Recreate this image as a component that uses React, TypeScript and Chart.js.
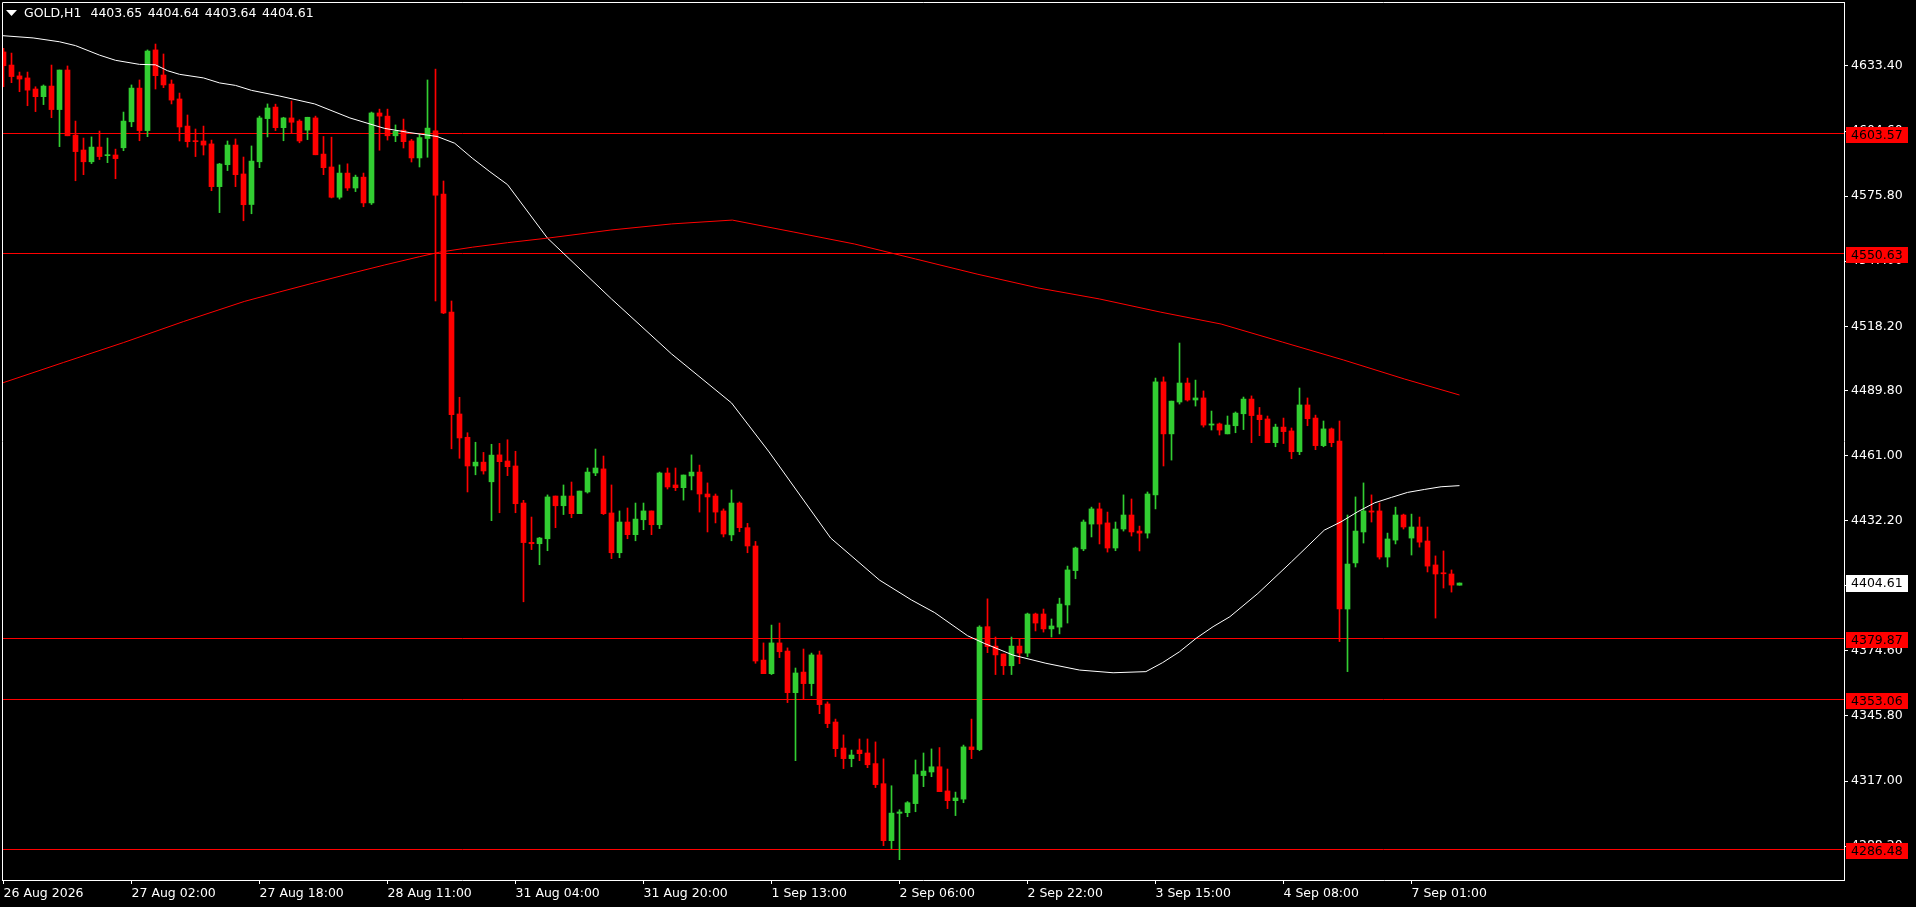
import React, { useEffect, useRef } from "react";
import { Chart, registerables } from "chart.js";
Chart.register(...registerables);

// ---- OHLC (GOLD, H1), one entry per bar, left to right ----
const opens = [
  4639.6, 4633.8, 4629.0, 4628.1, 4623.2, 4619.8, 4624.5, 4614.1, 4631.6, 4602.8,
  4596.2, 4591.0, 4597.5, 4593.7, 4594.0, 4597.2, 4608.7, 4623.6, 4604.8, 4640.5,
  4629.4, 4625.4, 4618.8, 4606.8, 4600.2, 4600.2, 4598.9, 4580.0, 4589.7, 4598.4,
  4585.6, 4572.1, 4591.0, 4610.1, 4615.2, 4606.1, 4610.4, 4609.0, 4605.0, 4610.4,
  4594.4, 4588.7, 4575.3, 4586.0, 4579.4, 4584.2, 4572.8, 4612.6, 4611.2, 4602.5,
  4605.0, 4600.2, 4592.7, 4601.3, 4604.7, 4576.7, 4524.5, 4479.4, 4469.1, 4456.4,
  4458.1, 4449.4, 4461.3, 4458.6, 4456.4, 4440.0, 4422.6, 4422.0, 4424.2, 4443.1,
  4438.8, 4443.1, 4435.3, 4444.9, 4453.3, 4455.1, 4435.6, 4418.0, 4431.6, 4426.0,
  4432.6, 4436.5, 4430.4, 4453.3, 4448.0, 4446.8, 4452.0, 4453.7, 4444.0, 4443.1,
  4436.5, 4425.9, 4440.0, 4429.1, 4421.0, 4370.5, 4364.5, 4378.1, 4374.5, 4356.1,
  4365.2, 4360.1, 4372.8, 4351.1, 4343.1, 4331.6, 4326.9, 4330.7, 4329.4, 4324.7,
  4315.8, 4290.6, 4302.7, 4303.0, 4307.0, 4319.4, 4321.0, 4323.3, 4312.6, 4308.3,
  4309.0, 4332.1, 4330.9, 4385.3, 4376.7, 4373.2, 4368.0, 4376.7, 4373.6, 4390.9,
  4390.9, 4384.3, 4385.1, 4394.9, 4410.1, 4419.7, 4430.7, 4437.4, 4431.2, 4420.1,
  4428.5, 4434.7, 4427.6, 4426.7, 4443.6, 4493.6, 4470.6, 4484.7, 4493.1, 4485.6,
  4486.5, 4474.5, 4475.0, 4470.6, 4474.2, 4479.5, 4486.0, 4478.9, 4477.2, 4466.7,
  4473.6, 4471.9, 4462.7, 4483.4, 4477.6, 4465.4, 4472.8, 4467.4, 4393.1, 4413.5,
  4427.2, 4436.5, 4436.5, 4416.1, 4423.6, 4434.7, 4424.5, 4429.4, 4423.2, 4412.6,
  4409.0, 4408.6, 4403.65,
];
const highs = [
  4641.2, 4639.1, 4630.7, 4630.7, 4624.2, 4625.0, 4633.8, 4631.6, 4633.4, 4609.0,
  4601.5, 4602.0, 4604.6, 4601.5, 4596.6, 4613.0, 4625.0, 4627.2, 4640.5, 4643.1,
  4638.7, 4627.2, 4621.4, 4611.7, 4605.5, 4606.8, 4600.6, 4590.3, 4600.2, 4601.1,
  4593.1, 4598.0, 4611.2, 4616.6, 4616.5, 4610.7, 4617.9, 4609.6, 4610.7, 4611.2,
  4602.2, 4601.9, 4589.6, 4590.1, 4585.1, 4586.0, 4613.0, 4614.3, 4614.3, 4607.3,
  4609.9, 4600.9, 4603.1, 4627.2, 4632.0, 4582.5, 4529.4, 4486.8, 4471.1, 4466.9,
  4462.4, 4466.0, 4466.4, 4468.0, 4462.9, 4441.2, 4433.8, 4424.8, 4443.6, 4443.1,
  4448.0, 4449.3, 4445.3, 4455.5, 4463.9, 4460.8, 4448.0, 4436.5, 4437.8, 4440.0,
  4440.0, 4436.5, 4453.7, 4455.5, 4455.5, 4452.4, 4461.3, 4456.8, 4448.9, 4444.0,
  4437.4, 4445.8, 4440.5, 4431.0, 4423.0, 4378.1, 4386.0, 4386.9, 4375.9, 4367.0,
  4375.4, 4373.6, 4374.5, 4352.0, 4344.4, 4337.4, 4330.7, 4335.6, 4335.6, 4334.3,
  4326.8, 4314.9, 4304.3, 4307.9, 4326.3, 4329.4, 4331.2, 4331.8, 4322.3, 4312.1,
  4332.9, 4344.4, 4385.7, 4397.6, 4380.7, 4373.2, 4380.7, 4379.8, 4391.3, 4391.3,
  4393.1, 4388.7, 4397.9, 4412.1, 4420.5, 4432.5, 4438.2, 4440.0, 4436.0, 4431.6,
  4443.6, 4441.8, 4429.8, 4444.9, 4495.3, 4495.8, 4485.1, 4510.8, 4495.3, 4494.4,
  4489.6, 4480.7, 4475.4, 4478.5, 4480.3, 4486.9, 4487.4, 4482.3, 4478.5, 4474.9,
  4477.6, 4473.2, 4490.9, 4486.5, 4478.9, 4476.3, 4473.2, 4476.3, 4434.7, 4442.7,
  4448.9, 4443.6, 4440.0, 4426.7, 4438.2, 4435.1, 4435.1, 4433.8, 4429.4, 4416.6,
  4418.8, 4410.4, 4404.64,
];
const lows = [
  4624.2, 4626.0, 4622.0, 4615.8, 4613.2, 4616.3, 4610.5, 4597.7, 4602.5, 4582.6,
  4585.3, 4590.2, 4592.0, 4590.6, 4583.5, 4595.9, 4606.5, 4600.3, 4602.1, 4623.2,
  4623.8, 4616.6, 4600.2, 4597.5, 4593.3, 4594.0, 4578.2, 4568.5, 4587.1, 4580.0,
  4564.9, 4568.0, 4588.4, 4602.0, 4604.8, 4600.3, 4603.6, 4599.4, 4600.8, 4594.1,
  4585.3, 4575.0, 4574.5, 4578.3, 4577.8, 4571.1, 4572.1, 4596.1, 4600.6, 4599.9,
  4597.1, 4590.9, 4588.7, 4593.0, 4529.4, 4523.8, 4464.0, 4459.8, 4444.9, 4452.5,
  4452.8, 4432.2, 4435.7, 4452.1, 4435.7, 4396.3, 4419.4, 4412.7, 4418.9, 4429.1,
  4434.9, 4433.5, 4435.3, 4444.4, 4452.1, 4434.9, 4415.4, 4415.8, 4424.2, 4423.3,
  4428.2, 4426.0, 4428.7, 4446.2, 4445.5, 4441.3, 4445.8, 4436.0, 4427.2, 4431.2,
  4425.0, 4423.3, 4427.3, 4418.0, 4369.1, 4364.5, 4364.1, 4371.6, 4351.7, 4326.0,
  4353.4, 4354.8, 4346.8, 4340.6, 4327.8, 4322.5, 4323.3, 4326.0, 4322.9, 4314.1,
  4288.4, 4287.1, 4282.2, 4301.2, 4303.4, 4314.5, 4318.9, 4312.3, 4304.8, 4301.7,
  4307.4, 4326.9, 4330.4, 4373.8, 4364.1, 4364.1, 4364.1, 4368.9, 4372.0, 4383.4,
  4382.9, 4380.7, 4382.1, 4386.9, 4406.5, 4418.9, 4425.0, 4421.9, 4418.3, 4418.9,
  4427.6, 4425.4, 4418.8, 4424.5, 4437.4, 4456.4, 4459.0, 4483.8, 4485.1, 4482.9,
  4473.6, 4472.3, 4470.1, 4470.6, 4471.1, 4472.5, 4466.7, 4469.8, 4466.7, 4464.9,
  4466.3, 4459.6, 4461.4, 4474.2, 4463.6, 4464.9, 4464.9, 4378.7, 4365.4, 4411.7,
  4422.3, 4431.6, 4415.2, 4411.7, 4421.9, 4428.5, 4417.0, 4420.5, 4409.5, 4389.1,
  4402.4, 4400.6, 4403.64,
];
const closes = [
  4633.5, 4628.7, 4627.6, 4622.7, 4619.8, 4624.5, 4614.1, 4631.6, 4602.5, 4595.5,
  4591.0, 4597.5, 4593.3, 4594.0, 4592.4, 4609.0, 4623.6, 4604.8, 4640.0, 4629.1,
  4625.0, 4618.3, 4606.4, 4599.9, 4599.9, 4598.4, 4580.0, 4590.0, 4598.4, 4585.3,
  4572.0, 4591.3, 4610.4, 4614.8, 4606.1, 4610.4, 4608.5, 4600.2, 4610.7, 4594.1,
  4588.4, 4575.3, 4586.0, 4579.4, 4584.2, 4572.8, 4612.6, 4611.2, 4602.5, 4604.5,
  4599.9, 4592.7, 4601.7, 4605.9, 4576.2, 4524.1, 4479.1, 4468.8, 4456.4, 4458.1,
  4454.2, 4461.2, 4458.3, 4456.1, 4439.7, 4422.5, 4422.0, 4424.5, 4442.7, 4438.8,
  4443.1, 4435.3, 4445.3, 4453.7, 4455.5, 4435.3, 4418.0, 4431.6, 4426.0, 4432.9,
  4436.5, 4430.4, 4453.3, 4447.1, 4446.8, 4452.4, 4453.7, 4444.0, 4442.7, 4436.0,
  4426.3, 4440.0, 4429.1, 4421.0, 4370.1, 4364.5, 4378.1, 4374.2, 4356.1, 4364.8,
  4360.1, 4372.8, 4350.8, 4342.4, 4331.3, 4326.9, 4328.5, 4329.1, 4324.2, 4315.4,
  4290.6, 4302.8, 4303.3, 4307.4, 4319.8, 4321.4, 4323.3, 4312.3, 4308.3, 4309.5,
  4332.1, 4330.9, 4385.1, 4376.5, 4372.8, 4368.0, 4376.7, 4373.6, 4390.9, 4386.9,
  4384.3, 4385.6, 4395.3, 4410.4, 4420.1, 4431.6, 4437.4, 4430.7, 4420.1, 4428.5,
  4434.7, 4427.2, 4426.7, 4444.0, 4493.6, 4470.6, 4485.1, 4493.1, 4485.6, 4486.5,
  4474.5, 4475.0, 4472.3, 4474.5, 4479.8, 4486.0, 4478.7, 4476.9, 4466.7, 4473.6,
  4471.6, 4462.7, 4483.4, 4477.3, 4465.4, 4472.8, 4466.7, 4393.1, 4413.0, 4427.6,
  4436.5, 4436.0, 4416.1, 4424.1, 4434.7, 4429.4, 4429.4, 4422.7, 4412.1, 4408.6,
  4408.7, 4403.7, 4404.61,
];

// ---- moving averages (bar position, price) ----
const maFastBars = [
  -0.5, 3.7, 7, 9, 12, 14, 17, 19, 20.5, 22, 25, 27, 29, 31, 34.5, 38.9, 43.3, 47.6,
  50.8, 54.2, 56.4, 58.6, 60.8, 63, 68, 76, 83.5, 91, 95.7, 103.4, 109.5, 113.5,
  116.4, 120.5, 122.6, 126.2, 130.3, 134.5, 138.7, 142.8, 144.9, 147, 149.1, 151.2,
  153.3, 156.8, 161, 165.1, 167.2, 169.3, 171.4, 173.5, 175.5, 177.6, 179.7, 182,
];
const maFastValues = [
  4646.9, 4645.8, 4644.1, 4642.4, 4638.2, 4635.9, 4634.1, 4633.9, 4631.3, 4629.7,
  4628.1, 4625.9, 4624.8, 4622.6, 4620.1, 4616.6, 4610.4, 4605.8, 4603.9, 4602.2,
  4599.2, 4592.6, 4586.6, 4580.9, 4557.2, 4530.3, 4506.0, 4484.3, 4462.6, 4424.5,
  4405.9, 4397.1, 4391.5, 4381.3, 4377.9, 4372.7, 4369.1, 4366.1, 4364.9, 4365.4,
  4369.4, 4374.2, 4380.2, 4385.3, 4389.7, 4400.0, 4414.0, 4428.0, 4431.7, 4436.2,
  4440.1, 4442.5, 4444.7, 4446.0, 4447.2, 4447.7,
];
const maSlowBars = [
  -0.5, 7.5, 15, 22.5, 30.1, 34.5, 38.9, 43.3, 47.6, 52, 54.5, 58.6, 63, 68.2, 75.9,
  83.5, 91.1, 98.8, 106.4, 114, 121.7, 129.3, 137, 144.6, 152.2, 159.9, 167.5, 175.1, 182,
];
const maSlowValues = [
  4492.7, 4502.2, 4511.0, 4520.3, 4529.2, 4533.4, 4537.5, 4541.5, 4545.3, 4549.0,
  4551.0, 4553.2, 4555.2, 4557.3, 4560.8, 4563.5, 4565.2, 4559.9, 4554.6, 4548.0,
  4541.3, 4535.2, 4530.3, 4524.5, 4519.2, 4511.2, 4503.3, 4494.9, 4487.8,
];

// ---- axes ----
const xTickBars = [0, 16, 32, 48, 64, 80, 96, 112, 128, 144, 160, 176];
const xTickLabels = [
  "26 Aug 2026", "27 Aug 02:00", "27 Aug 18:00", "28 Aug 11:00", "31 Aug 04:00",
  "31 Aug 20:00", "1 Sep 13:00", "2 Sep 06:00", "2 Sep 22:00", "3 Sep 15:00",
  "4 Sep 08:00", "7 Sep 01:00",
];
const yTickValues = [
  4633.4, 4604.6, 4575.8, 4547.0, 4518.2, 4489.8, 4461.0, 4432.2, 4403.4, 4374.6,
  4345.8, 4317.0, 4288.2,
];
const levelValues = [4603.57, 4550.63, 4379.87, 4353.06, 4286.48];
const lastPrice = 4404.61;
const headerSymbol = "GOLD,H1";
const headerQuote = ["4403.65", "4404.64", "4403.64", "4404.61"];

const UP = "#32cd32";
const DOWN = "#ff0000";
const FONT = "'DejaVu Sans', sans-serif";
const FONT_SIZE = 12.5;

export default function App() {
  const ref = useRef<HTMLCanvasElement | null>(null);

  useEffect(() => {
    const canvas = ref.current;
    if (!canvas) return;

    const colors = closes.map((c, i) => (c >= opens[i] ? UP : DOWN));
    const bodies = opens.map((o, i) => ({ x: i, y: [Math.min(o, closes[i]), Math.max(o, closes[i])] }));
    const wicks = highs.map((h, i) => ({ x: i, y: [lows[i], h] }));
    const fast = maFastBars.map((b, i) => ({ x: b, y: maFastValues[i] }));
    const slow = maSlowBars.map((b, i) => ({ x: b, y: maSlowValues[i] }));

    const overlay = {
      id: "overlay",
      beforeDatasetsDraw(chart: any) {
        const { ctx, chartArea } = chart;
        const ys = chart.scales.y;
        ctx.save();
        ctx.strokeStyle = "#ff0000";
        ctx.lineWidth = 1;
        for (const v of levelValues) {
          const p = Math.floor(ys.getPixelForValue(v)) + 0.5;
          ctx.beginPath();
          ctx.moveTo(chartArea.left, p);
          ctx.lineTo(chartArea.right, p);
          ctx.stroke();
        }
        ctx.restore();
      },
      afterDraw(chart: any) {
        const { ctx, chartArea } = chart;
        const ys = chart.scales.y;
        ctx.save();
        // frame top/left
        ctx.strokeStyle = "#ffffff";
        ctx.lineWidth = 1;
        ctx.beginPath();
        ctx.moveTo(chartArea.left + 0.5, chartArea.bottom);
        ctx.lineTo(chartArea.left + 0.5, chartArea.top + 0.5);
        ctx.lineTo(chartArea.right, chartArea.top + 0.5);
        ctx.stroke();

        ctx.font = `${FONT_SIZE}px ${FONT}`;
        ctx.textBaseline = "middle";
        ctx.textAlign = "left";
        const boxX = chartArea.right + 2;
        const boxW = 62;
        // level price boxes
        for (const v of levelValues) {
          const p = Math.floor(ys.getPixelForValue(v));
          ctx.fillStyle = "#ff0000";
          ctx.fillRect(boxX, p - 6, boxW, 16);
          ctx.fillStyle = "#000000";
          ctx.fillText(v.toFixed(2), chartArea.right + 7, p + 2.5);
        }
        // current price box
        const lp = Math.floor(ys.getPixelForValue(lastPrice));
        ctx.fillStyle = "#ffffff";
        ctx.fillRect(boxX, lp - 8, boxW, 17);
        ctx.fillStyle = "#000000";
        ctx.fillText(lastPrice.toFixed(2), chartArea.right + 7, lp + 0.5);

        // header
        ctx.fillStyle = "#ffffff";
        ctx.beginPath();
        ctx.moveTo(6, 10);
        ctx.lineTo(17, 10);
        ctx.lineTo(11.5, 16);
        ctx.closePath();
        ctx.fill();
        ctx.fillText(headerSymbol, 24, 14);
        let hx = 24 + ctx.measureText(headerSymbol).width + 9;
        for (const q of headerQuote) {
          ctx.fillText(q, hx, 14);
          hx += ctx.measureText(q).width + 5.5;
        }
        ctx.restore();
      },
    };

    const zeroPad = (s: any) => {
      s.paddingTop = 0;
      s.paddingBottom = 0;
      s.paddingLeft = 0;
      s.paddingRight = 0;
    };

    const chart = new Chart(canvas, {
      type: "bar",
      data: {
        datasets: [
          {
            type: "line",
            data: slow,
            borderColor: "#ff0000",
            borderWidth: 1,
            pointRadius: 0,
            tension: 0,
            order: 0,
          } as any,
          {
            type: "line",
            data: fast,
            borderColor: "#ffffff",
            borderWidth: 1,
            pointRadius: 0,
            tension: 0,
            order: 0,
          } as any,
          {
            type: "bar",
            data: wicks,
            backgroundColor: colors,
            grouped: false,
            barThickness: 1,
            minBarLength: 1,
            order: 2,
          } as any,
          {
            type: "bar",
            data: bodies,
            backgroundColor: colors,
            grouped: false,
            barThickness: 5,
            minBarLength: 1,
            order: 1,
          } as any,
        ],
      },
      options: {
        responsive: false,
        animation: false,
        devicePixelRatio: 1,
        layout: { padding: { left: 2, top: 2, right: 0, bottom: 0 } },
        plugins: { legend: { display: false }, tooltip: { enabled: false } },
        scales: {
          x: {
            type: "linear",
            position: "bottom",
            min: -0.1875,
            max: 230.0625,
            offset: false,
            bounds: "data",
            grid: {
              display: true,
              offset: false,
              drawOnChartArea: false,
              drawTicks: true,
              tickLength: 4,
              color: "#ffffff",
              lineWidth: 1,
            },
            border: { display: true, color: "#ffffff", width: 1 },
            ticks: {
              color: "#ffffff",
              font: { family: FONT, size: FONT_SIZE },
              autoSkip: false,
              maxRotation: 0,
              minRotation: 0,
              align: "start",
              padding: 2,
              callback: (v: any) => {
                const k = xTickBars.indexOf(Number(v));
                return k >= 0 ? xTickLabels[k] : "";
              },
            },
            afterBuildTicks: (s: any) => {
              s.ticks = xTickBars.map((v) => ({ value: v }));
            },
            afterFit: (s: any) => {
              s.height = 27;
              zeroPad(s);
            },
          } as any,
          y: {
            type: "linear",
            position: "right",
            min: 4273.2,
            max: 4661.7,
            bounds: "data",
            grid: {
              display: true,
              drawOnChartArea: false,
              drawTicks: true,
              tickLength: 4,
              color: "#ffffff",
              lineWidth: 1,
            },
            border: { display: true, color: "#ffffff", width: 1 },
            ticks: {
              color: "#ffffff",
              font: { family: FONT, size: FONT_SIZE },
              padding: 3,
              autoSkip: false,
              callback: (v: any) => Number(v).toFixed(2),
            },
            afterBuildTicks: (s: any) => {
              s.ticks = yTickValues.map((v) => ({ value: v }));
            },
            afterFit: (s: any) => {
              s.width = 72;
              zeroPad(s);
            },
          } as any,
        },
      },
      plugins: [overlay],
    });

    return () => chart.destroy();
  }, []);

  return (
    <div style={{ position: "fixed", left: 0, top: 0, width: 1916, height: 907, background: "#000000" }}>
      <canvas ref={ref} width={1916} height={907} style={{ display: "block", width: 1916, height: 907 }} />
    </div>
  );
}
